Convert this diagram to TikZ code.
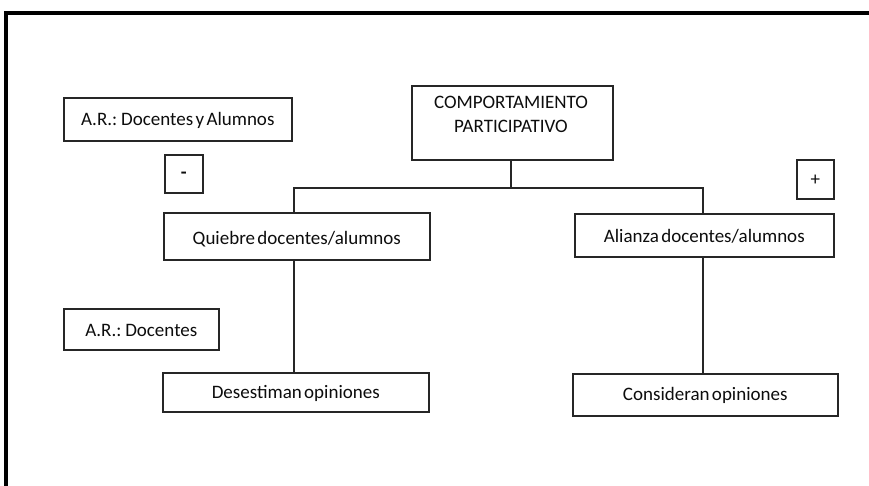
\documentclass[tikz,border=0pt]{standalone}
\usepackage{fontspec}
\setmainfont[WordSpace=0.55]{Carlito}
\begin{document}
\begin{tikzpicture}[x=1pt,y=-1pt,
  box/.style={draw=black!85, line width=1.6pt, rectangle, inner sep=0pt, anchor=north west},
  txt/.style={font=\fontsize{19}{22}\selectfont, text=black!95, inner sep=0pt},
  conn/.style={draw=black!85, line width=1.6pt}]
\useasboundingbox (0,0) rectangle (869,485);
\fill[white] (0,0) rectangle (869,485);
% frame
\draw[line width=3.6pt] (6,487) -- (6,13) -- (871,13);
% boxes
\node[box, minimum width=228, minimum height=43] (ar1) at (63,97) {};
\node[txt] at ([yshift=-1pt]ar1.center) {A.R.: Docentes y Alumnos};
\node[box, minimum width=38, minimum height=38] (minus) at (164,154) {};
\node[txt, font=\fontsize{19}{22}\selectfont\bfseries] at ([yshift=-1pt]minus.center) {-};
\node[box, minimum width=201, minimum height=74] (comp) at (411,85) {};
\node[txt] at (511,102) {COMPORTAMIENTO};
\node[txt] at (511,126) {PARTICIPATIVO};
\node[box, minimum width=37, minimum height=39] (plus) at (796,159) {};
\node[txt] at ([yshift=-1pt]plus.center) {+};
\node[box, minimum width=266, minimum height=47] (quiebre) at (163,212) {};
\node[txt] at ([yshift=-3pt]quiebre.center) {Quiebre docentes/alumnos};
\node[box, minimum width=259, minimum height=43] (alianza) at (574,213) {};
\node[txt] at ([yshift=-1pt]alianza.center) {Alianza docentes/alumnos};
\node[box, minimum width=155, minimum height=41] (ar2) at (63,308) {};
\node[txt] at ([yshift=-1pt]ar2.center) {A.R.: Docentes};
\node[box, minimum width=266, minimum height=39] (desest) at (162,372) {};
\node[txt] at ([yshift=-1pt]desest.center) {Desestiman opiniones};
\node[box, minimum width=265, minimum height=42] (consid) at (572,373) {};
\node[txt] at ([yshift=-1pt]consid.center) {Consideran opiniones};
% connectors
\coordinate (hl) at (294,188);
\coordinate (hr) at (703,188);
\coordinate (hm) at (511,188);
\draw[conn] (comp.south -| hm) -- (hm);
\draw[conn] (quiebre.north -| hl) -- (hl) -- (hr) -- (alianza.north -| hr);
\draw[conn] (quiebre.south -| hl) -- (desest.north -| hl);
\draw[conn] (alianza.south -| hr) -- (consid.north -| hr);
\end{tikzpicture}
\end{document}
